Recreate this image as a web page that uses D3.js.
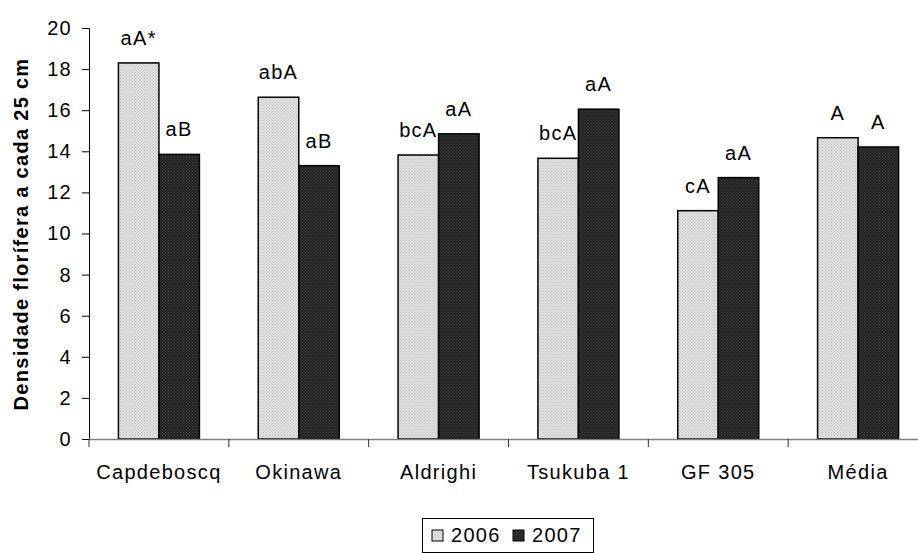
<!DOCTYPE html>
<html>
<head>
<meta charset="utf-8">
<script src="https://cdn.jsdelivr.net/npm/d3@7"></script>
<style>
  html, body { margin: 0; padding: 0; background: #fff; }
  svg { display: block; font-family: Arial, "Liberation Sans", sans-serif; }
  svg text { letter-spacing: 1.3px; }
</style>
</head>
<body>
<svg id="chart" width="918" height="553"></svg>
<script>
const categories = ["Capdeboscq", "Okinawa", "Aldrighi", "Tsukuba 1", "GF 305", "Média"];
const seriesNames = ["2006", "2007"];
const values2006 = [18.3, 16.63, 13.82, 13.66, 11.11, 14.66];
const values2007 = [13.85, 13.3, 14.85, 16.05, 12.72, 14.21];
const labels2006 = ["aA*", "abA", "bcA", "bcA", "cA", "A"];
const labels2007 = ["aB", "aB", "aA", "aA", "aA", "A"];
const yTicks = [0, 2, 4, 6, 8, 10, 12, 14, 16, 18, 20];
const yTitle = "Densidade florífera a cada 25 cm";

const FS = 20;
const svg = d3.select("#chart");
const defs = svg.append("defs");

function dotPattern(id, bg, dot) {
  const p = defs.append("pattern").attr("id", id)
    .attr("width", 3).attr("height", 3).attr("patternUnits", "userSpaceOnUse");
  p.append("rect").attr("width", 3).attr("height", 3).attr("fill", bg);
  p.append("rect").attr("x", 0).attr("y", 0).attr("width", 1).attr("height", 1).attr("fill", dot);
  p.append("rect").attr("x", 1.5).attr("y", 1.5).attr("width", 1).attr("height", 1).attr("fill", dot);
}
dotPattern("pat2006", "#e2e2e2", "#bdbdbd");
dotPattern("pat2007", "#222222", "#444444");
const fills = { "2006": "url(#pat2006)", "2007": "url(#pat2007)" };

const x = d3.scaleBand().domain(categories).range([89, 928]).padding(0);
const y = d3.scaleLinear().domain([0, 20]).range([439, 28]);
const barW = 40.5;
const xs = d3.scaleBand().domain(seriesNames).range([-barW, barW]).padding(0);

const data = categories.map((c, i) => ({
  cat: c,
  items: [
    { s: "2006", v: values2006[i], lab: labels2006[i] },
    { s: "2007", v: values2007[i], lab: labels2007[i] }
  ]
}));

// bars
const g = svg.append("g");
const groups = g.selectAll("g.cat").data(data).join("g")
  .attr("class", "cat")
  .attr("transform", d => `translate(${x(d.cat) + x.bandwidth() / 2},0)`);

groups.selectAll("rect").data(d => d.items).join("rect")
  .attr("x", d => xs(d.s))
  .attr("y", d => y(d.v))
  .attr("width", xs.bandwidth())
  .attr("height", d => y(0) - y(d.v))
  .attr("fill", d => fills[d.s])
  .attr("stroke", "#000")
  .attr("stroke-width", 1.5);

groups.selectAll("text.lab").data(d => d.items).join("text")
  .attr("class", "lab")
  .attr("x", d => xs(d.s) + xs.bandwidth() / 2)
  .attr("y", d => y(d.v) - 18)
  .attr("text-anchor", "middle")
  .attr("font-size", FS)
  .attr("fill", "#000")
  .text(d => d.lab);

// y axis
const yAxis = d3.axisLeft(y).tickValues(yTicks).tickSize(7).tickPadding(10);
const ya = svg.append("g").attr("transform", "translate(89,0)").call(yAxis);
ya.select(".domain").attr("stroke", "#000").attr("stroke-width", 1);
ya.selectAll(".tick line").attr("stroke", "#000");
ya.selectAll(".tick text").attr("font-size", FS).attr("fill", "#000")
  .attr("font-family", "Arial, 'Liberation Sans', sans-serif");

// x axis
const xAxis = d3.axisBottom(x).tickSize(0).tickPadding(26);
const xa = svg.append("g").attr("transform", `translate(0,${y(0)})`).call(xAxis);
xa.select(".domain").remove();
xa.selectAll(".tick text").attr("font-size", FS).attr("fill", "#000")
  .attr("font-family", "Arial, 'Liberation Sans', sans-serif");
svg.append("line").attr("x1", 89).attr("x2", 918)
  .attr("y1", y(0) + 0.5).attr("y2", y(0) + 0.5)
  .attr("stroke", "#808080").attr("stroke-width", 1.5);
// category boundary ticks
svg.append("g").selectAll("line").data(categories).join("line")
  .attr("x1", d => x(d)).attr("x2", d => x(d))
  .attr("y1", y(0)).attr("y2", y(0) + 8)
  .attr("stroke", "#333").attr("stroke-width", 1);

// y title
svg.append("text")
  .attr("transform", `translate(28,234) rotate(-90)`)
  .attr("text-anchor", "middle")
  .attr("font-size", FS)
  .attr("font-weight", "bold")
  .attr("fill", "#000")
  .text(yTitle);

// legend
const lg = svg.append("g");
lg.append("rect").attr("x", 422.5).attr("y", 518.5).attr("width", 171).attr("height", 34)
  .attr("fill", "#fff").attr("stroke", "#000").attr("stroke-width", 1);
const legItems = lg.selectAll("g.li").data(seriesNames).join("g")
  .attr("class", "li")
  .attr("transform", (d, i) => `translate(${432 + i * 81},0)`);
legItems.append("rect").attr("x", 0).attr("y", 530).attr("width", 11).attr("height", 11)
  .attr("fill", d => fills[d]).attr("stroke", "#000").attr("stroke-width", 1);
legItems.append("text").attr("x", 19).attr("y", 542).attr("font-size", FS).attr("fill", "#000").text(d => d);
</script>
</body>
</html>
